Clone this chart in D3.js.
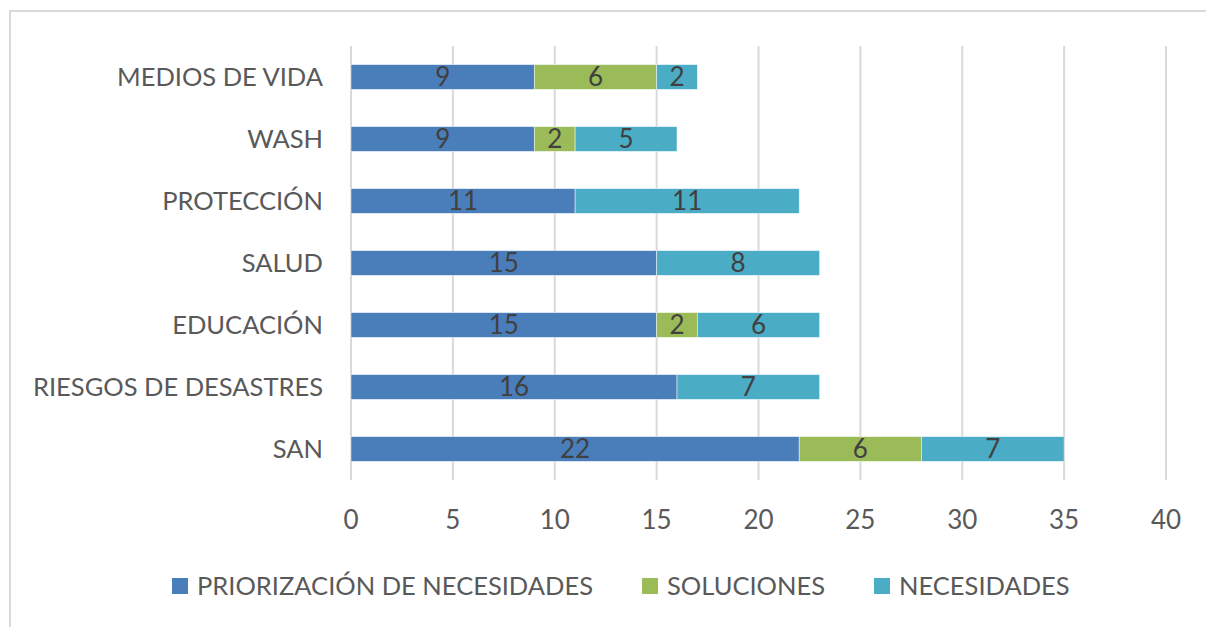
<!DOCTYPE html>
<html>
<head>
<meta charset="utf-8">
<script src="https://cdn.jsdelivr.net/npm/d3@7"></script>
<style>
  body { margin: 0; background: #fff; }
  svg { display: block; font-family: Lato, "Open Sans", sans-serif; }
</style>
</head>
<body>
<div id="chart"></div>
<script>
// categories top to bottom
const categories = ['MEDIOS DE VIDA', 'WASH', 'PROTECCIÓN', 'SALUD', 'EDUCACIÓN', 'RIESGOS DE DESASTRES', 'SAN'];
const seriesNames = ['PRIORIZACIÓN DE NECESIDADES', 'SOLUCIONES', 'NECESIDADES'];
const priorizacion = [9, 9, 11, 15, 15, 16, 22];
const soluciones = [6, 2, 0, 0, 2, 0, 6];
const necesidades = [2, 5, 11, 8, 6, 7, 7];
const xTicks = [0, 5, 10, 15, 20, 25, 30, 35, 40];
const colors = ['#4a7ebb', '#9bbb59', '#4bacc6'];

const W = 1206, H = 627;
const svg = d3.select('#chart').append('svg')
    .attr('width', W)
    .attr('height', H);

svg.append('rect').attr('width', W).attr('height', H).attr('fill', '#fff');

// frame (top + left only visible)
svg.append('path')
    .attr('d', `M10,${H} L10,11 L${W},11`)
    .attr('fill', 'none')
    .attr('stroke', '#d9d9d9')
    .attr('stroke-width', 2);

const x = d3.scaleLinear().domain([0, 40]).range([351, 1166]);
const y = d3.scaleBand().domain(categories).range([46, 480]).paddingInner(0.6).paddingOuter(0.3);

// gridlines
svg.append('g')
    .selectAll('line')
    .data(xTicks)
    .join('line')
    .attr('x1', d => x(d)).attr('x2', d => x(d))
    .attr('y1', 46).attr('y2', 480)
    .attr('stroke', '#d9d9d9')
    .attr('stroke-width', 2);

// x tick labels
svg.append('g')
    .selectAll('text')
    .data(xTicks)
    .join('text')
    .attr('x', d => x(d))
    .attr('y', 520)
    .attr('dy', '0.35em')
    .attr('text-anchor', 'middle')
    .attr('fill', '#595959')
    .style('font-size', '26px')
    .text(d => d);

// category labels
svg.append('g')
    .selectAll('text')
    .data(categories)
    .join('text')
    .attr('x', 323)
    .attr('y', d => y(d) + y.bandwidth() / 2)
    .attr('dy', '0.35em')
    .attr('text-anchor', 'end')
    .attr('fill', '#595959')
    .style('font-size', '25.5px')
    .text(d => d);

// stacked bars
const rows = categories.map((c, i) => ({
    cat: c,
    [seriesNames[0]]: priorizacion[i],
    [seriesNames[1]]: soluciones[i],
    [seriesNames[2]]: necesidades[i]
}));
const stacked = d3.stack().keys(seriesNames)(rows);

const layers = svg.append('g')
    .selectAll('g')
    .data(stacked)
    .join('g')
    .attr('fill', (d, i) => colors[i]);

layers.selectAll('rect')
    .data(d => d.filter(s => s[1] - s[0] > 0))
    .join('rect')
    .attr('x', d => x(d[0]))
    .attr('y', d => y(d.data.cat))
    .attr('width', d => x(d[1]) - x(d[0]))
    .attr('height', y.bandwidth())
    .attr('stroke', '#fff')
    .attr('stroke-opacity', 0.6)
    .attr('stroke-width', 0.8);

layers.selectAll('text')
    .data(d => d.filter(s => s[1] - s[0] > 0))
    .join('text')
    .attr('x', d => (x(d[0]) + x(d[1])) / 2)
    .attr('y', d => y(d.data.cat) + y.bandwidth() / 2)
    .attr('dy', '0.35em')
    .attr('text-anchor', 'middle')
    .attr('fill', '#404040')
    .style('font-size', '26px')
    .text(d => d[1] - d[0]);

// legend
const legendX = [172, 642, 874];
const legend = svg.append('g')
    .selectAll('g')
    .data(seriesNames)
    .join('g')
    .attr('transform', (d, i) => `translate(${legendX[i]}, 586)`);

legend.append('rect')
    .attr('x', 0).attr('y', -8)
    .attr('width', 16).attr('height', 16)
    .attr('fill', (d, i) => colors[i]);

legend.append('text')
    .attr('x', 25)
    .attr('dy', '0.35em')
    .attr('fill', '#595959')
    .style('font-size', '25.5px')
    .text(d => d);
</script>
</body>
</html>
